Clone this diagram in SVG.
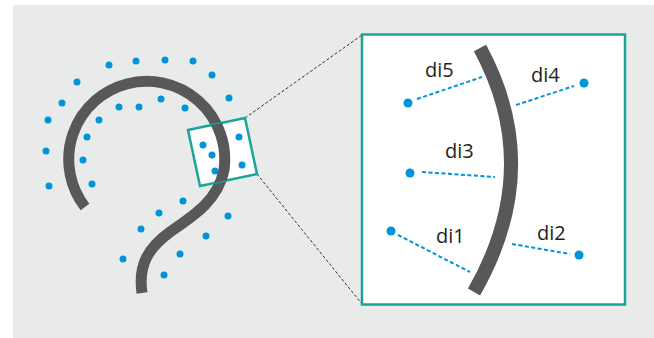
<svg xmlns="http://www.w3.org/2000/svg" width="654" height="338" viewBox="0 0 654 338">
<style>
.dot{fill:#0095da}
.curve{fill:none;stroke:#58585a;stroke-linecap:butt}
.teal{fill:#fff;stroke:#1aa59a}
.zoomline{stroke:#333;stroke-width:1;stroke-dasharray:3 2;fill:none}
.dist{stroke:#0095da;stroke-width:2;stroke-dasharray:4 2.5;fill:none}
.lbl{font-family:"Open Sans","Liberation Sans",sans-serif;font-size:20px;fill:#231f20}
</style>
<defs><clipPath id="boxclip"><polygon points="188,130 245,118 257,174 200,186"/></clipPath></defs>
<rect x="13" y="5" width="641" height="333" fill="#e9ebea"/>
<g id="connectors">
<line class="zoomline" x1="245" y1="118" x2="362" y2="35"/>
<line class="zoomline" x1="257" y1="174" x2="362" y2="304"/>
</g>
<g id="overview">
<path class="curve" stroke-width="11" d="M85,207 A78,78 0 1 1 224,170 C218,200 195,215 170,232 C148,248 138,265 142,293"/>
<polygon id="small-box" class="teal" stroke-width="2.5" points="188,130 245,118 257,174 200,186"/>
<path class="curve" stroke-width="11" d="M85,207 A78,78 0 1 1 224,170 C218,200 195,215 170,232" clip-path="url(#boxclip)"/>
<g id="dots">
<circle class="dot" cx="109" cy="65" r="3.5"/><circle class="dot" cx="136" cy="61" r="3.5"/>
<circle class="dot" cx="165" cy="60" r="3.5"/><circle class="dot" cx="193" cy="61" r="3.5"/>
<circle class="dot" cx="212" cy="75" r="3.5"/><circle class="dot" cx="229" cy="98" r="3.5"/>
<circle class="dot" cx="77" cy="82" r="3.5"/><circle class="dot" cx="62" cy="103" r="3.5"/>
<circle class="dot" cx="48" cy="120" r="3.5"/><circle class="dot" cx="46" cy="151" r="3.5"/>
<circle class="dot" cx="49" cy="186" r="3.5"/>
<circle class="dot" cx="119" cy="107" r="3.5"/><circle class="dot" cx="139" cy="107" r="3.5"/>
<circle class="dot" cx="161" cy="99" r="3.5"/><circle class="dot" cx="185" cy="108" r="3.5"/>
<circle class="dot" cx="99" cy="120" r="3.5"/><circle class="dot" cx="87" cy="137" r="3.5"/>
<circle class="dot" cx="83" cy="160" r="3.5"/><circle class="dot" cx="92" cy="184" r="3.5"/>
<circle class="dot" cx="203" cy="145" r="3.5"/><circle class="dot" cx="212" cy="155" r="3.5"/>
<circle class="dot" cx="215" cy="171" r="3.5"/><circle class="dot" cx="239" cy="137" r="3.5"/>
<circle class="dot" cx="242" cy="165" r="3.5"/>
<circle class="dot" cx="183" cy="201" r="3.5"/><circle class="dot" cx="159" cy="213" r="3.5"/>
<circle class="dot" cx="141" cy="229" r="3.5"/><circle class="dot" cx="123" cy="259" r="3.5"/>
<circle class="dot" cx="228" cy="216" r="3.5"/><circle class="dot" cx="206" cy="236" r="3.5"/>
<circle class="dot" cx="180" cy="254" r="3.5"/><circle class="dot" cx="164" cy="275" r="3.5"/>
</g>
</g>
<g id="detail">
<rect id="big-box" class="teal" stroke-width="2.5" x="362" y="34.5" width="263" height="270"/>
<path class="curve" stroke-width="14" d="M480,48 Q545,168 474,292"/>
</g>
<g id="distances">
<line class="dist" x1="417" y1="99" x2="482" y2="77"/>
<line class="dist" x1="516" y1="105" x2="574" y2="86"/>
<line class="dist" x1="422" y1="172" x2="495" y2="177"/>
<line class="dist" x1="398" y1="235" x2="470" y2="272"/>
<line class="dist" x1="512" y1="244" x2="570" y2="254"/>
</g>
<g id="points">
<circle id="p5" class="dot" cx="408" cy="103" r="4.5"/>
<circle id="p4" class="dot" cx="584" cy="83" r="4.5"/>
<circle id="p3" class="dot" cx="410" cy="173" r="4.5"/>
<circle id="p1" class="dot" cx="391" cy="231" r="4.5"/>
<circle id="p2" class="dot" cx="579" cy="255" r="4.5"/>
</g>
<g id="labels">
<text class="lbl" x="425" y="77">di5</text>
<text class="lbl" x="531" y="82">di4</text>
<text class="lbl" x="445" y="158">di3</text>
<text class="lbl" x="436" y="243">di1</text>
<text class="lbl" x="537" y="240">di2</text>
</g>
</svg>
